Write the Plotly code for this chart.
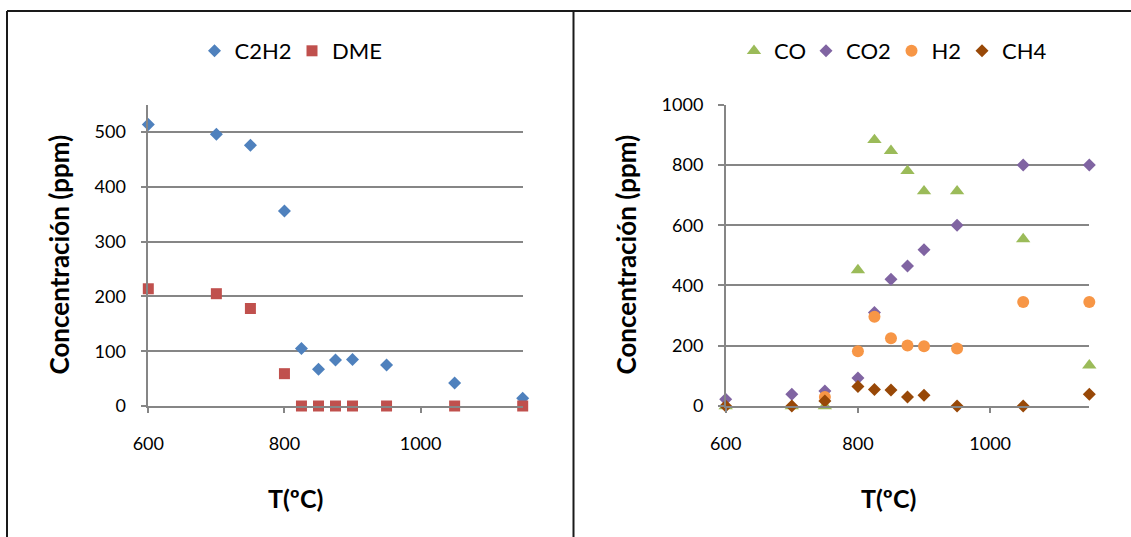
import plotly.graph_objects as go

# ---- data ----
T_left = [600, 700, 750, 800, 825, 850, 875, 900, 950, 1050, 1150]
c2h2 = [514, 496, 476, 356, 105, 67, 84, 85, 75, 42, 14]
dme = [214, 205, 178, 59, 0, 0, 0, 0, 0, 0, 0]

T_right = [600, 700, 750, 800, 825, 850, 875, 900, 950, 1050, 1150]
co = [0, 0, 0, 451, 883, 847, 780, 713, 713, 554, 135]
co2 = [22, 39, 50, 93, 310, 421, 465, 519, 600, 800, 800]
h2 = [None, None, 30, 182, 296, 225, 201, 198, 191, 345, 345]
ch4 = [0, 0, 17, 65, 55, 53, 30, 36, 0, 0, 39]

x_ticks = [600, 800, 1000]
y_ticks_left = [0, 100, 200, 300, 400, 500]
y_ticks_right = [0, 200, 400, 600, 800, 1000]

W, H = 1131, 537
FONT = "Lato"
GRID = "#868686"

fig = go.Figure()

# each legend entry gets its own legend box, placed where the reference shows it
legend_x = {"legend": 194.5, "legend2": 292, "legend3": 734, "legend4": 806,
            "legend5": 891.5, "legend6": 962}

def add(x, y, name, symbol, size, color, xa, ya, lg):
    fig.add_trace(go.Scatter(x=x, y=y, mode="markers", name=name, cliponaxis=False,
                             marker=dict(symbol=symbol, size=size, color=color),
                             xaxis=xa, yaxis=ya, legend=lg))

add(T_left, c2h2, "C2H2", "diamond", 10, "#4F81BD", "x", "y", "legend")
add(T_left, dme, "DME", "square", 11, "#C0504D", "x", "y", "legend2")
add(T_right, co, "CO", "triangle-up", 12.5, "#9BBB59", "x2", "y2", "legend3")
add(T_right, co2, "CO2", "diamond", 10, "#8064A2", "x2", "y2", "legend4")
add(T_right, h2, "H2", "circle", 12, "#F79646", "x2", "y2", "legend5")
add(T_right, ch4, "CH4", "diamond", 10, "#984807", "x2", "y2", "legend6")

y_dom = [1 - 406 / H, 1 - 104.7 / H]

common_x = dict(showgrid=False, zeroline=False, showline=True, linecolor=GRID, linewidth=1.5,
                ticks="outside", ticklen=5, tickcolor=GRID, tickwidth=1.5,
                tickvals=x_ticks, tickfont=dict(family=FONT, size=18, color="#000"),
                ticklabelstandoff=16, automargin=False)
common_y = dict(showgrid=True, gridcolor=GRID, gridwidth=1.5, zeroline=False, showline=True,
                linecolor=GRID, linewidth=1.5, ticks="outside", ticklen=6, tickcolor=GRID,
                tickwidth=1.5, tickfont=dict(family=FONT, size=18, color="#000"),
                ticklabelstandoff=11, automargin=False)

legends = {}
for key, px in legend_x.items():
    legends[key] = dict(orientation="h", x=px / W, xanchor="left", y=1 - 51 / H, yanchor="middle",
                        font=dict(family=FONT, size=22, color="#000"), bgcolor="rgba(0,0,0,0)",
                        itemwidth=30)

fig.update_layout(
    width=W, height=H,
    margin=dict(l=0, r=0, t=0, b=0, autoexpand=False),
    paper_bgcolor="white", plot_bgcolor="white",
    font=dict(family=FONT, color="#000"),
    xaxis=dict(domain=[148.3 / W, 522.7 / W], range=[600, 1150], anchor="y", **common_x),
    yaxis=dict(domain=y_dom, range=[0, 550], tickvals=y_ticks_left, anchor="x", **common_y),
    xaxis2=dict(domain=[725.7 / W, 1089.3 / W], range=[600, 1150], anchor="y2", **common_x),
    yaxis2=dict(domain=y_dom, range=[0, 1000], tickvals=y_ticks_right, anchor="x2", **common_y),
    showlegend=True,
    **legends,
)

# axis titles
for xc, txt in [(295, "T(ºC)"), (888, "T(ºC)")]:
    fig.add_annotation(x=xc / W, y=1 - 498 / H, xref="paper", yref="paper", text="<b>%s</b>" % txt,
                       showarrow=False, xanchor="center", yanchor="middle",
                       font=dict(family=FONT, size=25, color="#000"))
for xc in [58.5, 625.5]:
    fig.add_annotation(x=xc / W, y=1 - 255 / H, xref="paper", yref="paper",
                       text="<b>Concentración (ppm)</b>", textangle=-90,
                       showarrow=False, xanchor="center", yanchor="middle",
                       font=dict(family=FONT, size=26, color="#000"))

# frame lines
frame = dict(color="#1a1a1a", width=2)
fig.add_shape(type="line", xref="paper", yref="paper", x0=7 / W, x1=1, y0=1 - 11 / H, y1=1 - 11 / H, line=frame)
fig.add_shape(type="line", xref="paper", yref="paper", x0=7 / W, x1=7 / W, y0=0, y1=1 - 11 / H, line=frame)
fig.add_shape(type="line", xref="paper", yref="paper", x0=573.5 / W, x1=573.5 / W, y0=0, y1=1 - 11 / H, line=frame)

fig.write_html("out.html")
